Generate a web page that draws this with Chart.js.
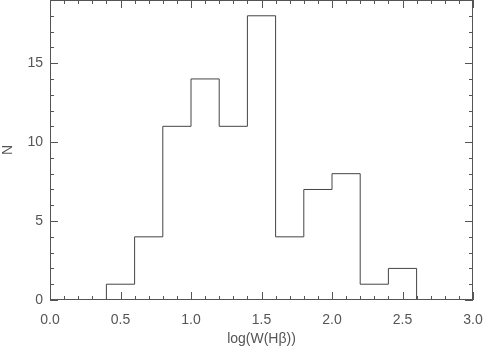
<!DOCTYPE html>
<html><head><meta charset="utf-8">
<script src="https://cdn.jsdelivr.net/npm/chart.js@4.4.1/dist/chart.umd.min.js"></script>
<style>html,body{margin:0;padding:0;background:#fff}#wrap{width:483px;height:348px}</style>
</head><body><div id="wrap"><canvas id="c" width="483" height="348"></canvas></div>
<script>
const binLeftEdges = [0.0,0.2,0.4,0.6,0.8,1.0,1.2,1.4,1.6,1.8,2.0,2.2,2.4];
const counts =       [0,  0,  1,  4,  11, 14, 11, 18, 4,  7,  8,  1,  2];
const lastEdge = 2.6;
const xTickLabels = ['0.0','0.5','1.0','1.5','2.0','2.5','3.0'];
const yTickLabels = ['0','5','10','15'];

// step points: each bin's value held from its left edge to the next edge
const pts = [];
binLeftEdges.forEach((x,i)=>{ pts.push({x:x,y:counts[i]}); });
pts.push({x:lastEdge,y:0});

const INK = '#555';
const boxTicks = {
  id:'boxTicks',
  afterDraw(chart){
    const {ctx, chartArea:a, scales:{x,y}} = chart;
    ctx.save();
    ctx.strokeStyle = INK; ctx.lineWidth = 1;
    ctx.strokeRect(a.left+0.5, a.top+0.5, a.right-a.left-1, a.bottom-a.top-1);
    ctx.beginPath();
    for(let i=0;i<=30;i++){
      const v=i/10, px=Math.round(x.getPixelForValue(v))+0.5, L=(i%5===0)?8:4;
      ctx.moveTo(px,a.bottom); ctx.lineTo(px,a.bottom-L);
      ctx.moveTo(px,a.top); ctx.lineTo(px,a.top+L);
    }
    for(let j=0;j<=19;j++){
      const py=Math.round(y.getPixelForValue(j))+0.5, L=(j%5===0)?8:4;
      ctx.moveTo(a.left,py); ctx.lineTo(a.left+L,py);
      ctx.moveTo(a.right,py); ctx.lineTo(a.right-L,py);
    }
    ctx.stroke();
    ctx.restore();
  }
};

new Chart(document.getElementById('c'),{
  type:'line',
  data:{datasets:[{data:pts,stepped:'before',borderColor:'#444',borderWidth:1,pointRadius:0,fill:false,tension:0}]},
  options:{
    responsive:false,animation:false,
    layout:{padding:{top:0,right:10,left:0,bottom:0}},
    plugins:{legend:{display:false},tooltip:{enabled:false}},
    scales:{
      x:{type:'linear',min:0,max:3,
        grid:{display:false,drawTicks:false},border:{display:false},
        ticks:{stepSize:0.5,padding:12,color:INK,font:{family:'Liberation Sans',size:14},
          callback:(v)=>{const s=v.toFixed(1);return xTickLabels.includes(s)?s:'';},maxRotation:0,autoSkip:false},
        title:{display:true,text:'log(W(Hβ))',color:INK,font:{family:'Liberation Sans',size:14},padding:{top:0,bottom:0}},
        afterFit:(s)=>{s.height=48;s.paddingLeft=0;s.paddingRight=0;}
      },
      y:{type:'linear',min:0,max:19,
        grid:{display:false,drawTicks:false},border:{display:false},
        afterBuildTicks:(s)=>{s.ticks=s.ticks.filter(t=>yTickLabels.includes(String(t.value)));},
        ticks:{stepSize:5,padding:7,color:INK,font:{family:'Liberation Sans',size:14},autoSkip:false},
        title:{display:true,text:'N',color:INK,font:{family:'Liberation Sans',size:14},padding:{top:0,bottom:0}},
        afterFit:(s)=>{s.width=50;s.paddingTop=0;s.paddingBottom=0;}
      }
    }
  },
  plugins:[boxTicks]
});
</script></body></html>
